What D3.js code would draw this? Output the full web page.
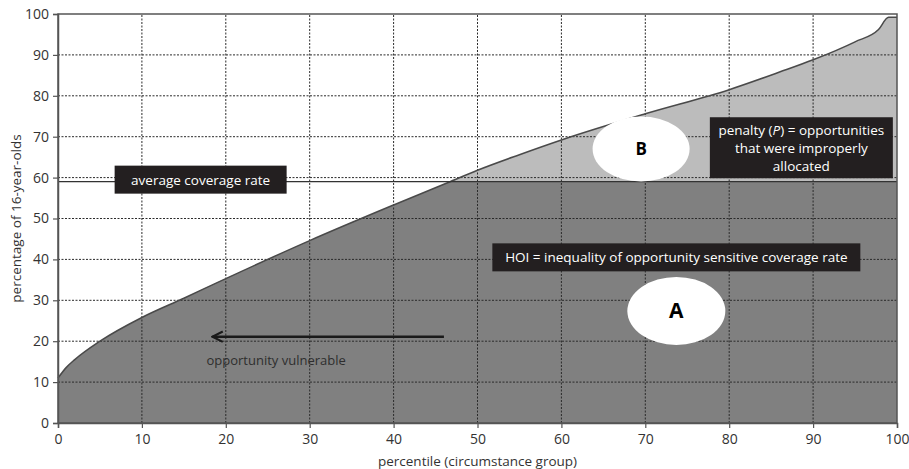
<!DOCTYPE html>
<html lang="en">
<head>
<meta charset="UTF-8">
<title>Human Opportunity Index</title>
<script src="https://cdn.jsdelivr.net/npm/d3@7"></script>
<style>
  body { margin: 0; background: #fff; }
  text { font-family: "Open Sans", "Noto Sans", sans-serif; }
</style>
</head>
<body>
<script>
// coverage curve
var percentile = [0, 1, 2, 5, 10, 15, 20, 30, 40, 46.5, 50, 55, 60, 70, 80, 86, 90, 95, 97.8, 99, 100];
var coverage   = [11, 13.6, 15.5, 20, 25.8, 30.5, 35.3, 44.6, 53.3, 58.8, 61.8, 65.6, 69.2, 75.6, 81.5, 85.8, 88.8, 93.2, 96.2, 99.2, 99.2];
var avgRate = 59;
var xTicks = [0, 10, 20, 30, 40, 50, 60, 70, 80, 90, 100];
var yTicks = [0, 10, 20, 30, 40, 50, 60, 70, 80, 90, 100];

var data = percentile.map(function(p, i) { return { x: p, y: coverage[i] }; });

var w = 909, h = 469;
var margin = { top: 14, right: 12, bottom: 46, left: 58 };

var svg = d3.select('body').append('svg')
  .attr('width', w)
  .attr('height', h);

var xScale = d3.scaleLinear().domain([0, 100]).range([margin.left, w - margin.right]);
var yScale = d3.scaleLinear().domain([0, 100]).range([h - margin.bottom, margin.top]);

// light area = whole area under curve
var area = d3.area()
  .x(d => xScale(d.x))
  .y0(yScale(0))
  .y1(d => yScale(d.y))
  .curve(d3.curveMonotoneX);

svg.append('path')
  .datum(data)
  .attr('d', area)
  .attr('fill', '#bcbcbc');

// dark area = under curve and under the average line
svg.append('clipPath').attr('id', 'below-avg')
  .append('rect')
  .attr('x', xScale(0))
  .attr('y', yScale(avgRate))
  .attr('width', xScale(100) - xScale(0))
  .attr('height', yScale(0) - yScale(avgRate));

svg.append('path')
  .datum(data)
  .attr('d', area)
  .attr('fill', '#808080')
  .attr('clip-path', 'url(#below-avg)');

// dotted grid
svg.append('g').selectAll('line')
  .data(xTicks.slice(1, -1))
  .enter().append('line')
  .attr('x1', d => xScale(d)).attr('x2', d => xScale(d))
  .attr('y1', yScale(0)).attr('y2', yScale(100))
  .attr('stroke', '#2a2a2a')
  .attr('stroke-width', 1)
  .attr('stroke-dasharray', '2,1.5');

svg.append('g').selectAll('line')
  .data(yTicks.slice(1, -1))
  .enter().append('line')
  .attr('x1', xScale(0)).attr('x2', xScale(100))
  .attr('y1', d => yScale(d)).attr('y2', d => yScale(d))
  .attr('stroke', '#2a2a2a')
  .attr('stroke-width', 1)
  .attr('stroke-dasharray', '2,1.5');

// curve outline
svg.append('path')
  .datum(data)
  .attr('d', d3.line().x(d => xScale(d.x)).y(d => yScale(d.y)).curve(d3.curveMonotoneX))
  .attr('fill', 'none')
  .attr('stroke', '#4a4a4a')
  .attr('stroke-width', 1.5);

// average coverage line
svg.append('line')
  .attr('x1', xScale(0)).attr('x2', xScale(100))
  .attr('y1', yScale(avgRate)).attr('y2', yScale(avgRate))
  .attr('stroke', '#333')
  .attr('stroke-width', 1.2);

// frame
svg.append('rect')
  .attr('x', xScale(0)).attr('y', yScale(100))
  .attr('width', xScale(100) - xScale(0))
  .attr('height', yScale(0) - yScale(100))
  .attr('fill', 'none')
  .attr('stroke', '#555')
  .attr('stroke-width', 1.5);

// axes
var xAxis = d3.axisBottom(xScale).tickValues(xTicks).tickSize(5).tickPadding(6);
var yAxis = d3.axisLeft(yScale).tickValues(yTicks).tickSize(5).tickPadding(4);

svg.append('g')
  .attr('class', 'x axis')
  .attr('transform', 'translate(0,' + yScale(0) + ')')
  .call(xAxis);

svg.append('g')
  .attr('class', 'y axis')
  .attr('transform', 'translate(' + xScale(0) + ',0)')
  .call(yAxis);

svg.selectAll('.axis .domain').attr('stroke', '#555').attr('stroke-width', 1.5);
svg.selectAll('.axis .tick line').attr('stroke', '#555').attr('stroke-width', 1.2);
svg.selectAll('.axis .tick text')
  .attr('font-family', '"Open Sans", sans-serif')
  .attr('font-size', '14px')
  .attr('fill', '#333');

// axis titles
svg.append('text')
  .attr('x', (xScale(0) + xScale(100)) / 2)
  .attr('y', h - 3)
  .attr('text-anchor', 'middle')
  .attr('font-size', '13.5px')
  .attr('fill', '#333')
  .text('percentile (circumstance group)');

svg.append('text')
  .attr('transform', 'translate(21,' + (yScale(0) + yScale(100)) / 2 + ') rotate(-90)')
  .attr('text-anchor', 'middle')
  .attr('font-size', '13.5px')
  .attr('fill', '#333')
  .text('percentage of 16-year-olds');

// dark label boxes
function labelBox(cx, cy, bw, bh, lines) {
  var g = svg.append('g');
  g.append('rect')
    .attr('x', xScale(cx) - bw / 2)
    .attr('y', yScale(cy) - bh / 2)
    .attr('width', bw)
    .attr('height', bh)
    .attr('fill', '#231f20');
  var t = g.append('text')
    .attr('text-anchor', 'middle')
    .attr('font-size', '13.5px')
    .attr('fill', '#fff');
  lines.forEach(function(line, i) {
    var span = t.append('tspan')
      .attr('x', xScale(cx))
      .attr('y', yScale(cy) + (i - (lines.length - 1) / 2) * 18 + 5);
    line.forEach(function(part) {
      span.append('tspan')
        .attr('font-style', part.italic ? 'italic' : null)
        .text(part.t);
    });
  });
}

labelBox(17, 59.5, 172, 28, [[{ t: 'average coverage rate' }]]);
labelBox(88.6, 67.3, 183, 61, [
  [{ t: 'penalty (' }, { t: 'P', italic: true }, { t: ') = opportunities' }],
  [{ t: 'that were improperly' }],
  [{ t: 'allocated' }]
]);
labelBox(73.7, 40.5, 368, 28, [[{ t: 'HOI = inequality  of opportunity  sensitive coverage rate' }]]);

// white ellipses
function bubble(cx, cy, rx, ry, letter, size) {
  svg.append('ellipse')
    .attr('cx', xScale(cx)).attr('cy', yScale(cy))
    .attr('rx', rx).attr('ry', ry)
    .attr('fill', '#fff');
  svg.append('text')
    .attr('x', xScale(cx)).attr('y', yScale(cy) + size * 0.36)
    .attr('text-anchor', 'middle')
    .attr('font-family', '"Liberation Sans", Arial, sans-serif')
    .attr('font-weight', 'bold')
    .attr('font-size', size + 'px')
    .attr('fill', '#000')
    .text(letter);
}

bubble(69.5, 67, 48.5, 32.5, 'B', 17);
bubble(73.7, 27.4, 49, 34, 'A', 21);

// arrow
svg.append('defs').append('marker')
  .attr('id', 'chev')
  .attr('viewBox', '0 0 10 10')
  .attr('refX', 9).attr('refY', 5)
  .attr('markerWidth', 5).attr('markerHeight', 5)
  .attr('orient', 'auto')
  .append('path')
  .attr('d', 'M1,1 L9,5 L1,9')
  .attr('fill', 'none')
  .attr('stroke', '#1a1a1a')
  .attr('stroke-width', 1.6);

svg.append('line')
  .attr('x1', xScale(46)).attr('x2', xScale(18.4))
  .attr('y1', yScale(21.1)).attr('y2', yScale(21.1))
  .attr('stroke', '#1a1a1a')
  .attr('stroke-width', 2.6)
  .attr('marker-end', 'url(#chev)');

svg.append('text')
  .attr('x', xScale(17.7))
  .attr('y', yScale(14.3))
  .attr('font-size', '13px')
  .attr('fill', '#2e2e2e')
  .text('opportunity vulnerable');
</script>
</body>
</html>
